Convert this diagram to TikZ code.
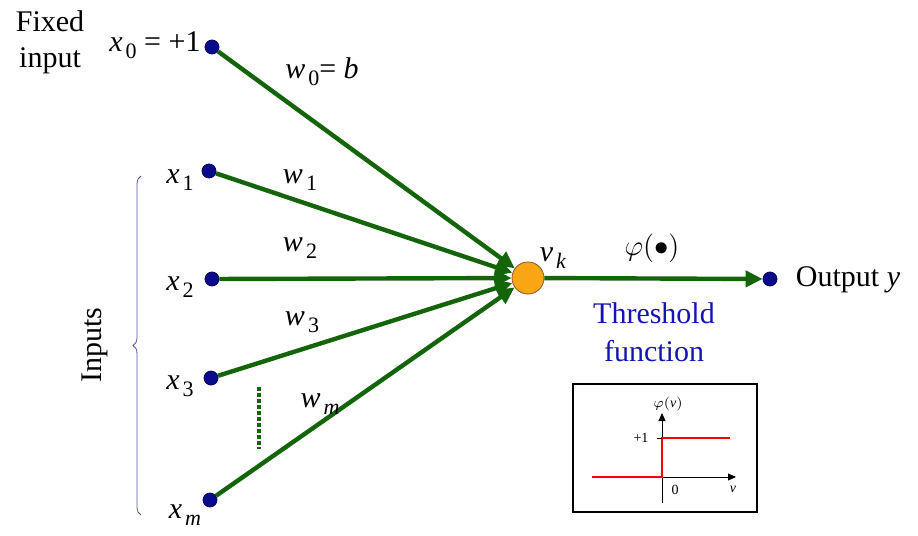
\documentclass[tikz,border=0pt]{standalone}
\usepackage{fontspec}
\setmainfont{Liberation Serif}
\usetikzlibrary{arrows.meta,decorations.pathreplacing}
\definecolor{sinapsis}{RGB}{20,100,10}
\definecolor{punto}{RGB}{10,10,140}
\definecolor{naranja}{RGB}{250,165,20}
\definecolor{azultxt}{RGB}{20,20,180}
\newcommand{\vsub}[2]{\textit{#1}\kern1.5pt\raisebox{-0.5ex}{\fontsize{11}{11}\selectfont #2}}
\tikzset{
  entrada/.style={circle, fill=punto, draw=punto!60!black, inner sep=0pt, minimum size=7pt},
  suma/.style={circle, fill=naranja, draw=brown!70!black, thin, inner sep=0pt, minimum size=16pt},
  sinap/.style={draw=sinapsis, line width=2.2pt, -{Triangle[length=8.5pt,width=8pt]}},
  etiqueta/.style={font=\fontsize{15}{18}\selectfont, inner sep=1pt},
  ejes/.style={thin, -{Triangle[length=4pt,width=3.5pt]}},
  chico/.style={font=\fontsize{7}{8}\selectfont, inner sep=1pt},
}

\begin{document}
\begin{tikzpicture}[x=0.5pt,y=-0.5pt]
          \useasboundingbox (0,0) rectangle (918,536);
          % entradas y neurona
          \node[entrada] (x0) at (212,47) {};
          \node[entrada] (x1) at (209,171) {};
          \node[entrada] (x2) at (212,279) {};
          \node[entrada] (x3) at (211,378) {};
          \node[entrada] (xm) at (210,500) {};
          \node[suma] (vk) at (528,278) {};
          \node[entrada] (out) at (770,279) {};
          \foreach \n in {x0,x1,x2,x3,xm} \draw[sinap] (\n) -- (vk);
          \draw[sinap] (vk) -- (out);
          \draw[sinapsis, line width=1.7pt, dash pattern=on 2pt off 1pt] (259,387) -- (259,449);
          % textos
          \node[etiqueta, align=center] (fijo) at (50,42) {Fixed\\input};
          \node[etiqueta] (lx0) at (155,45) {\vsub{x}{0} = +1};
          \node[etiqueta] (lw0) at (322,72) {\vsub{w}{0}= \textit{b}};
          \node[etiqueta] (lx1) at (180,180) {\vsub{x}{1}};
          \node[etiqueta] (lw1) at (300,180) {\vsub{w}{1}};
          \node[etiqueta] (lx2) at (180,287) {\vsub{x}{2}};
          \node[etiqueta] (lw2) at (300,248) {\vsub{w}{2}};
          \node[etiqueta] (lw3) at (302,322) {\vsub{w}{3}};
          \node[etiqueta] (lx3) at (180,386) {\vsub{x}{3}};
          \node[etiqueta] (lwm) at (320,404) {\vsub{w}{\textit{m}}};
          \node[etiqueta] (lxm) at (185,515) {\vsub{x}{\textit{m}}};
          \node[etiqueta] (lvk) at (553,258) {\vsub{v}{\textit{k}}};
          \node[etiqueta] (lphi) at (652,248) {$\varphi(\bullet)$};
          \node[etiqueta] (lout) at (848,280) {Output \textit{y}};
          \node[etiqueta, text=azultxt, align=center] (umbral) at (654,332) {Threshold\\[1pt]function};
          \node[etiqueta, rotate=90] (inp) at (95,345) {Inputs};
          \draw[punto!70, thin, decorate, decoration={brace, amplitude=4pt}]
            (141,515) -- (141,176);
          % recuadro de la funcion escalon
          \draw[thick] (573,384) rectangle (757,512);
          \draw[ejes] (662,503) -- (662,413);
          \draw[ejes] (662,477) -- (736,477);
          \draw[red, thick] (592,477) -- (662,477) -- (662,438) -- (730,438);
          \draw[thin] (657,438) -- (662,438);
          \node[chico] (fv) at (668,404) {$\varphi(\mathit{v})$};
          \node[chico] (uno) at (641,438) {+1};
          \node[chico] (cero) at (675,490) {0};
          \node[chico] (ve) at (733,489) {\textit{v}};
        \end{tikzpicture}
\end{document}
